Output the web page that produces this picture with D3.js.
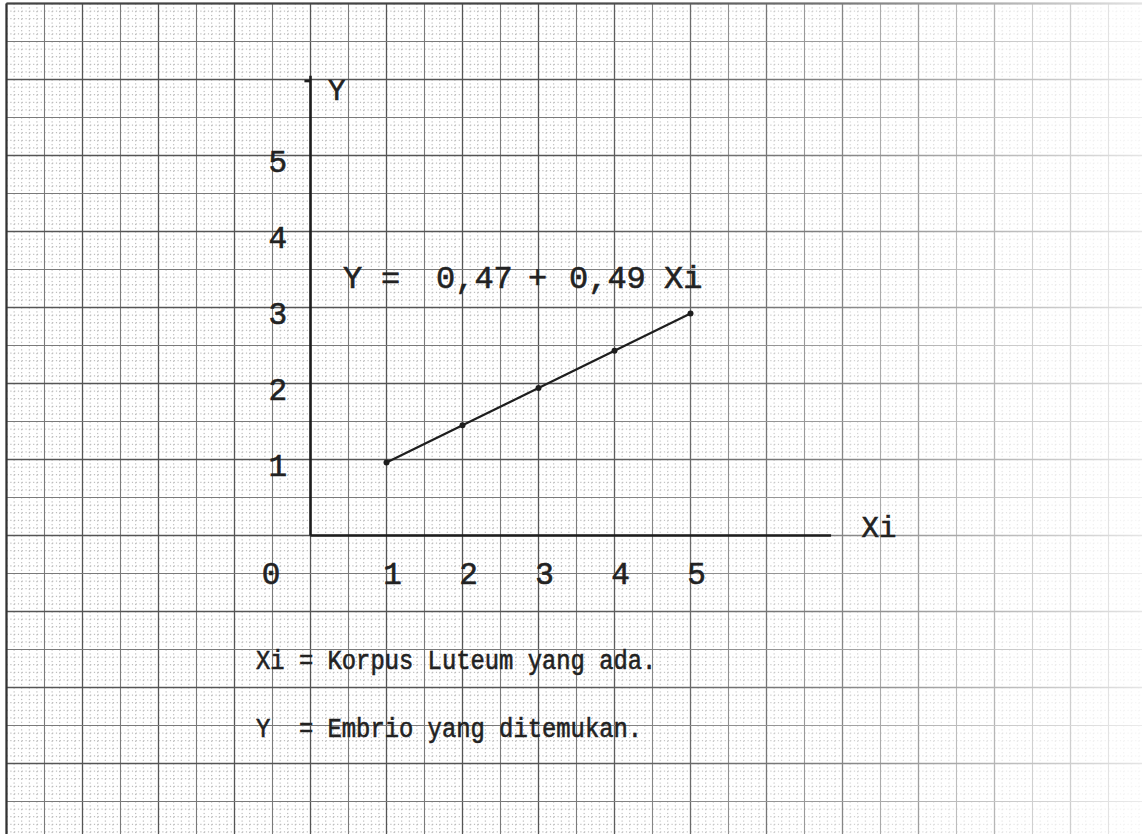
<!DOCTYPE html>
<html>
<head>
<meta charset="utf-8">
<style>
  html, body { margin: 0; padding: 0; background: #fff; }
  svg { display: block; }
  text { font-family: "Liberation Mono", "Courier New", monospace; fill: #222; stroke: #222; stroke-width: 0.6; white-space: pre; }
</style>
</head>
<body>
<svg id="chart" width="1142" height="834"></svg>
<script src="https://d3js.org/d3.v7.min.js"></script>
<script>
    // values
    const xValues = [1, 2, 3, 4, 5];
    const yValues = [0.96, 1.45, 1.94, 2.43, 2.92];
    const xTickLabels = ["1", "2", "3", "4", "5"];
    const yTickLabels = ["1", "2", "3", "4", "5"];
    const originLabel = "0";
    const equation = ["Y", "=", "0,47", "+", "0,49", "Xi"];
    const legendLines = ["Xi = Korpus Luteum yang ada.", "Y  = Embrio yang ditemukan."];

    const W = 1142, H = 834;
    const unit = 76;   // one centimetre of the paper
    const svg = d3.select('#chart');

    const x = d3.scaleLinear().domain([0, 1]).range([310.5, 310.5 + unit]);
    const y = d3.scaleLinear().domain([0, 1]).range([535.5, 535.5 - unit]);

    // ---- graph paper ----
    const paper = svg.append('g').attr('id', 'paper');
    const xmax = x.invert(W);
    const ymin = y.invert(H);
    const paperLeft = x(-4), paperTop = y(7);

    function fineTicks(a, b) {
        return d3.range(Math.ceil(a * 10), Math.floor(b * 10) + 1)
            .filter((k) => k % 5 !== 0).map((k) => k / 10);
    }
    function halfTicks(a, b) {
        return d3.range(Math.ceil(a * 2), Math.floor(b * 2) + 1).map((k) => k / 2);
    }

    paper.append('g').selectAll('line')
        .data(fineTicks(-4, xmax))
        .enter().append('line')
        .attr('x1', (d) => x(d)).attr('x2', (d) => x(d))
        .attr('y1', paperTop).attr('y2', H)
        .attr('style', 'stroke:#b0b0b0;stroke-width:1;stroke-dasharray:1.2,2.6');
    paper.append('g').selectAll('line')
        .data(fineTicks(ymin, 7))
        .enter().append('line')
        .attr('y1', (d) => y(d)).attr('y2', (d) => y(d))
        .attr('x1', paperLeft).attr('x2', W)
        .attr('style', 'stroke:#b0b0b0;stroke-width:1;stroke-dasharray:1.2,2.6');

    paper.append('g').selectAll('line')
        .data(halfTicks(-4, xmax))
        .enter().append('line')
        .attr('x1', (d) => x(d)).attr('x2', (d) => x(d))
        .attr('y1', paperTop).attr('y2', H)
        .attr('style', (d) => d % 1 === 0 ? 'stroke:#555;stroke-width:1.3' : 'stroke:#7a7a7a;stroke-width:1.1');
    paper.append('g').selectAll('line')
        .data(halfTicks(ymin, 7))
        .enter().append('line')
        .attr('y1', (d) => y(d)).attr('y2', (d) => y(d))
        .attr('x1', paperLeft).attr('x2', W)
        .attr('style', (d) => d % 1 === 0 ? 'stroke:#555;stroke-width:1.3' : 'stroke:#7a7a7a;stroke-width:1.1');

    paper.append('line').attr('x1', paperLeft).attr('x2', paperLeft).attr('y1', paperTop).attr('y2', H)
        .attr('style', 'stroke:#333;stroke-width:2.2');
    paper.append('line').attr('x1', paperLeft).attr('x2', W).attr('y1', paperTop).attr('y2', paperTop)
        .attr('style', 'stroke:#444;stroke-width:1.8');

    // the scan fades toward the right
    const grad = svg.append('defs').append('linearGradient')
        .attr('id', 'fade').attr('x1', '0').attr('x2', '1').attr('y1', '0').attr('y2', '0');
    grad.append('stop').attr('offset', '0').attr('stop-color', '#fff').attr('stop-opacity', 0);
    grad.append('stop').attr('offset', '0.45').attr('stop-color', '#fff').attr('stop-opacity', 0.25);
    grad.append('stop').attr('offset', '1').attr('stop-color', '#fff').attr('stop-opacity', 0.85);
    svg.append('rect').attr('x', 560).attr('y', 0).attr('width', W - 560).attr('height', H)
        .attr('fill', 'url(#fade)');

    // ---- axes ----
    const axes = svg.append('g').attr('style', 'stroke:#1e1e1e;stroke-width:2.6;fill:none');
    axes.append('line').attr('x1', x(0)).attr('x2', x(0)).attr('y1', y(0)).attr('y2', y(6.05));
    axes.append('line').attr('x1', x(0)).attr('x2', x(6.85)).attr('y1', y(0)).attr('y2', y(0));
    axes.append('line').attr('x1', x(0)).attr('x2', x(-0.08)).attr('y1', y(5.98)).attr('y2', y(5.98));

    svg.append('text').attr('x', x(0.23)).attr('y', y(5.73)).attr('font-size', 29).text('Y');
    svg.append('text').attr('x', x(7.25)).attr('y', y(-0.02)).attr('font-size', 29).text('Xi');

    svg.append('g').selectAll('text')
        .data(xTickLabels)
        .enter().append('text')
        .attr('x', (d) => x(+d) + 6)
        .attr('y', y(-0.64))
        .attr('text-anchor', 'middle')
        .attr('font-size', 31)
        .text((d) => d);
    svg.append('text').attr('x', x(-0.52)).attr('y', y(-0.64))
        .attr('text-anchor', 'middle').attr('font-size', 31).text(originLabel);

    svg.append('g').selectAll('text')
        .data(yTickLabels)
        .enter().append('text')
        .attr('x', x(-0.43))
        .attr('y', (d) => y(+d) + 16)
        .attr('text-anchor', 'middle')
        .attr('font-size', 31)
        .text((d) => d);

    // ---- regression line and points ----
    const pts = xValues.map((v, i) => [v, yValues[i]]);
    svg.append('path')
        .attr('d', d3.line().x((d) => x(d[0])).y((d) => y(d[1]))(pts))
        .attr('style', 'fill:none;stroke:#1e1e1e;stroke-width:2.2');
    svg.append('g').selectAll('circle')
        .data(pts)
        .enter().append('circle')
        .attr('cx', (d) => x(d[0]))
        .attr('cy', (d) => y(d[1]))
        .attr('r', 3)
        .attr('fill', '#1e1e1e');

    // ---- equation ----
    const eqX = [343, 381, 436, 528, 569, 664];
    svg.append('g').selectAll('text')
        .data(equation)
        .enter().append('text')
        .attr('x', (d, i) => eqX[i])
        .attr('y', 288)
        .attr('font-size', 32)
        .text((d) => d);

    // ---- legend ----
    svg.append('g').selectAll('text')
        .data(legendLines)
        .enter().append('text')
        .attr('x', 256)
        .attr('y', (d, i) => 669 + i * 68)
        .attr('font-size', 27)
        .attr('textLength', (d) => d.length * 14.3)
        .attr('lengthAdjust', 'spacingAndGlyphs')
        .text((d) => d);
</script>
</body>
</html>
